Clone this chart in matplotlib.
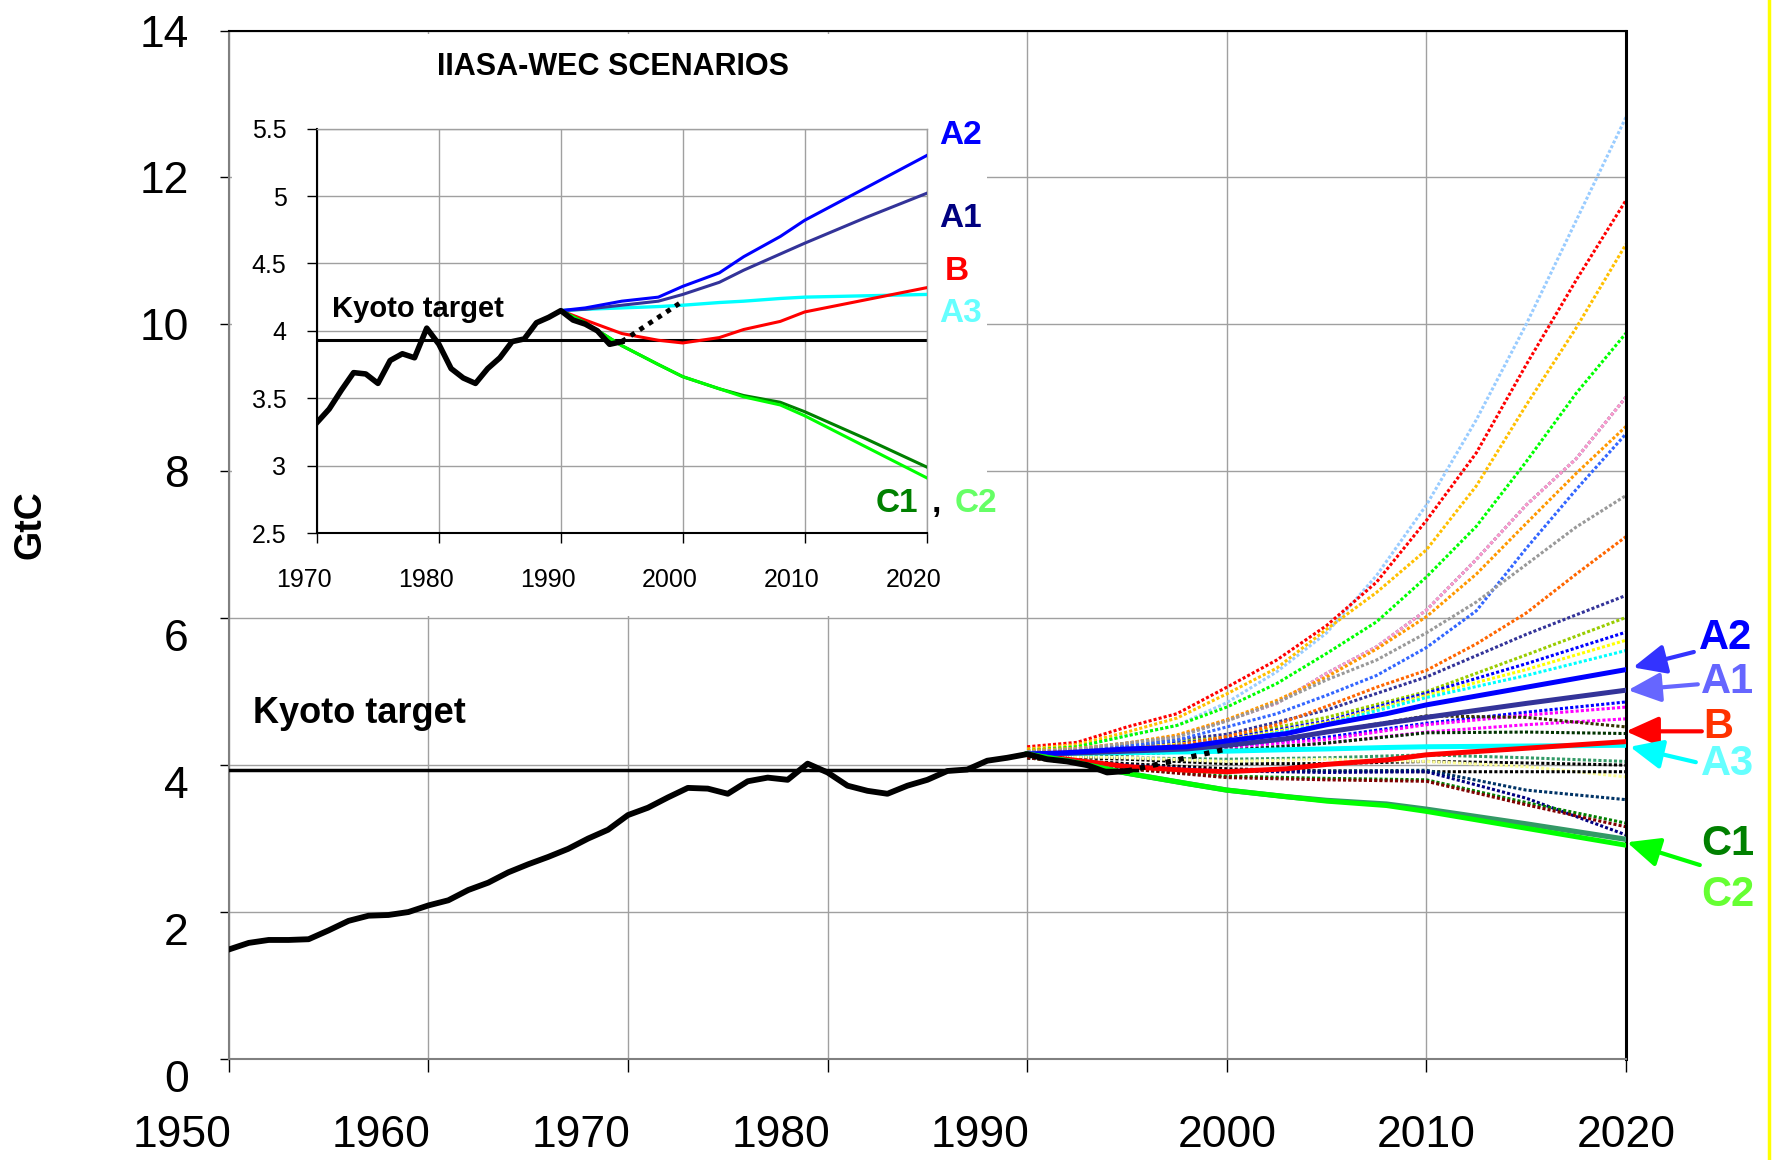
import matplotlib.pyplot as plt
import matplotlib.transforms as mtransforms
from matplotlib.lines import Line2D
from matplotlib.patches import Rectangle

plt.rcParams['font.family'] = ['Liberation Sans', 'DejaVu Sans']

# historical emissions (GtC)
hist_years = list(range(1950, 1996))
hist_gtc = [1.49, 1.58, 1.62, 1.62, 1.63, 1.75, 1.88, 1.95, 1.96, 2.00,
            2.09, 2.16, 2.30, 2.40, 2.54, 2.65, 2.75, 2.86, 3.00, 3.12,
            3.32, 3.42, 3.56, 3.69, 3.68, 3.61, 3.78, 3.83, 3.80, 4.02,
            3.90, 3.72, 3.65, 3.61, 3.72, 3.80, 3.92, 3.94, 4.06, 4.10,
            4.15, 4.08, 4.05, 4.00, 3.90, 3.92]
trend_years = [1995, 2000]
trend_gtc = [3.92, 4.22]
kyoto = 3.93

# IIASA-WEC scenarios
scen_years = [1990, 1992, 1995, 1998, 2000, 2003, 2005, 2008, 2010, 2015, 2020]
scen_a2 = [4.15, 4.17, 4.22, 4.25, 4.33, 4.43, 4.55, 4.70, 4.82, 5.06, 5.30]
scen_a1 = [4.15, 4.16, 4.19, 4.22, 4.27, 4.36, 4.45, 4.57, 4.65, 4.84, 5.02]
scen_b = [4.15, 4.08, 3.98, 3.93, 3.91, 3.95, 4.01, 4.07, 4.14, 4.23, 4.32]
scen_a3 = [4.15, 4.16, 4.17, 4.18, 4.19, 4.21, 4.22, 4.24, 4.25, 4.26, 4.27]
scen_c1 = [4.15, 4.06, 3.89, 3.75, 3.66, 3.57, 3.52, 3.47, 3.40, 3.20, 2.99]
scen_c2 = [4.15, 4.06, 3.89, 3.75, 3.66, 3.57, 3.51, 3.45, 3.37, 3.14, 2.91]

# other scenarios (dotted) - fast-growing ones, read every 2.5 years
high_years = [1990, 1992.5, 1995, 1997.5, 2000, 2002.5, 2005, 2007.5,
              2010, 2012.5, 2015, 2017.5, 2020]
high_colors = ['#99ccff', '#ff0000', '#ffc000', '#00ff00', '#666699', '#ff99cc',
               '#ff9900', '#3366ff', '#999999', '#ff6600']
high_values = [
    [4.20, 4.25, 4.40, 4.54, 4.85, 5.27, 5.80, 6.58, 7.54, 8.70, 10.00, 11.41, 12.82],
    [4.25, 4.31, 4.52, 4.70, 5.06, 5.43, 5.90, 6.49, 7.33, 8.25, 9.45, 10.60, 11.69],
    [4.22, 4.28, 4.45, 4.64, 4.97, 5.32, 5.85, 6.35, 6.93, 7.80, 8.90, 9.95, 11.09],
    [4.20, 4.25, 4.40, 4.54, 4.79, 5.11, 5.52, 5.95, 6.56, 7.25, 8.13, 9.06, 9.88],
    [4.18, 4.22, 4.30, 4.39, 4.61, 4.84, 5.25, 5.61, 6.11, 6.80, 7.54, 8.17, 9.01],
    [4.18, 4.22, 4.30, 4.39, 4.61, 4.84, 5.25, 5.61, 6.11, 6.80, 7.54, 8.17, 9.01],
    [4.20, 4.23, 4.30, 4.41, 4.62, 4.88, 5.20, 5.58, 6.02, 6.60, 7.29, 7.97, 8.61],
    [4.18, 4.20, 4.26, 4.34, 4.52, 4.70, 4.95, 5.22, 5.60, 6.10, 6.95, 7.75, 8.51],
    [4.18, 4.22, 4.30, 4.38, 4.60, 4.85, 5.16, 5.43, 5.80, 6.22, 6.73, 7.24, 7.67],
    [4.17, 4.19, 4.23, 4.27, 4.39, 4.55, 4.80, 5.06, 5.29, 5.65, 6.07, 6.60, 7.11],
]

# other scenarios (dotted) - the flatter ones, read every 5 years
low_years = [1990, 1995, 2000, 2005, 2010, 2015, 2020]
low_colors = ['#333399', '#99cc00', '#0000ff', '#ffff00', '#00ffff', '#0000ff',
              '#ff00ff', '#ff00ff', '#333300', '#003300', '#339966', '#000000',
              '#ffff99', '#000000', '#003366', '#000080', '#008000', '#800000']
low_values = [
    [4.17, 4.27, 4.42, 4.75, 5.20, 5.78, 6.31],
    [4.16, 4.25, 4.38, 4.65, 5.00, 5.50, 6.01],
    [4.16, 4.24, 4.36, 4.60, 4.98, 5.38, 5.81],
    [4.15, 4.23, 4.34, 4.58, 4.95, 5.30, 5.70],
    [4.15, 4.22, 4.32, 4.56, 4.92, 5.22, 5.56],
    [4.15, 4.20, 4.25, 4.38, 4.57, 4.72, 4.86],
    [4.15, 4.20, 4.24, 4.35, 4.55, 4.68, 4.79],
    [4.14, 4.18, 4.20, 4.30, 4.45, 4.55, 4.63],
    [4.14, 4.18, 4.25, 4.45, 4.67, 4.65, 4.52],
    [4.13, 4.15, 4.20, 4.30, 4.44, 4.45, 4.43],
    [4.12, 4.10, 4.08, 4.10, 4.14, 4.10, 4.05],
    [4.12, 4.08, 4.02, 4.02, 4.05, 4.03, 4.00],
    [4.13, 4.10, 4.05, 4.08, 4.05, 3.98, 3.84],
    [4.10, 4.02, 3.95, 3.92, 3.91, 3.91, 3.91],
    [4.10, 4.00, 3.92, 3.92, 3.93, 3.66, 3.53],
    [4.10, 4.00, 3.92, 3.90, 3.91, 3.55, 3.05],
    [4.10, 3.95, 3.85, 3.82, 3.80, 3.49, 3.21],
    [4.10, 3.95, 3.83, 3.80, 3.78, 3.46, 3.16],
]

fig = plt.figure(figsize=(17.72, 11.60), dpi=100)
ax = fig.add_axes([0.1291, 0.0871, 0.7885, 0.8866])

ax.set_xlim(1950, 2020)
ax.set_ylim(0, 14)
ax.set_xticks(range(1950, 2021, 10))
ax.set_yticks(range(0, 15, 2))
ax.set_axisbelow(True)
ax.grid(True, color='#a0a0a0', lw=1.0)

for side in ['left', 'bottom']:
    ax.spines[side].set_color('#808080')
    ax.spines[side].set_linewidth(1.5)
ax.spines['top'].set_linewidth(1.5)
ax.spines['right'].set_linewidth(2.2)

ax.tick_params(axis='x', direction='out', length=9.4, width=1, pad=31, labelsize=32)
ax.tick_params(axis='y', direction='out', length=6.8, width=1, pad=22, labelsize=32)

# tick labels sit a bit off their ticks in the original slide
for year, lbl in zip(range(1950, 2021, 10), ax.get_xticklabels()):
    if year < 2000:
        lbl.set_transform(lbl.get_transform() +
                          mtransforms.ScaledTranslation(-0.47, 0, fig.dpi_scale_trans))
for val, lbl in zip(range(0, 15, 2), ax.get_yticklabels()):
    if val <= 6:
        lbl.set_transform(lbl.get_transform() +
                          mtransforms.ScaledTranslation(0, -0.17, fig.dpi_scale_trans))

# white box behind the inset
ax.add_patch(Rectangle((0.0024, 0.4307), 0.5403, 0.566, transform=ax.transAxes,
                       facecolor='white', edgecolor='none', zorder=1))

for col, vals in zip(low_colors, low_values):
    ax.plot(low_years, vals, color=col, lw=2.2, ls=(0, (1, 0.7)),
            dash_capstyle='butt', zorder=2)
for col, vals in zip(high_colors, high_values):
    ax.plot(high_years, vals, color=col, lw=2.2, ls=(0, (1, 0.7)),
            dash_capstyle='butt', zorder=2)

ax.plot(scen_years, scen_a3, color='#00ffff', lw=3.6, zorder=3)
ax.plot(scen_years, scen_b, color='#ff0000', lw=3.6, zorder=3)
ax.plot(scen_years, scen_a1, color='#333399', lw=3.6, zorder=3)
ax.plot(scen_years, scen_a2, color='#0000ff', lw=3.6, zorder=3)
ax.plot(scen_years, scen_c1, color='#339966', lw=3.8, zorder=3)
ax.plot(scen_years, scen_c2, color='#00ff00', lw=3.6, zorder=3)

ax.plot([1950, 1995.5], [kyoto, kyoto], color='black', lw=2.5, zorder=4)
ax.plot(hist_years, hist_gtc, color='black', lw=4.2, zorder=5)
ax.plot(trend_years, trend_gtc, color='black', lw=3.8, ls=(0, (1, 1.5)),
        dash_capstyle='butt', zorder=5)

ax.text(1951.2, 4.57, 'Kyoto target', fontsize=26, fontweight='bold',
        ha='left', va='baseline', zorder=6)

# scenario labels and arrows on the right
labels = [('A2', 2025.0, 5.73, '#0000ff'), ('A1', 2025.1, 5.13, '#6666ff'),
          ('B', 2024.6, 4.52, '#ff3300'), ('A3', 2025.1, 4.01, '#66ffff'),
          ('C1', 2025.1, 2.93, '#008000'), ('C2', 2025.1, 2.23, '#66ff33')]
for name, x, y, col in labels:
    ax.text(x, y, name, fontsize=30, fontweight='bold', color=col,
            ha='center', va='center', clip_on=False)

arrows = [((2020.35, 5.33), (2023.4, 5.54), '#3333ff'),
          ((2020.1, 5.02), (2023.6, 5.10), '#6666ff'),
          ((2020.0, 4.46), (2023.8, 4.46), '#ff0000'),
          ((2020.2, 4.25), (2023.5, 4.04), '#00ffff'),
          ((2020.05, 2.95), (2023.7, 2.64), '#00ff00')]
for tip, tail, col in arrows:
    ax.annotate('', xy=tip, xytext=tail, annotation_clip=False,
                arrowprops=dict(arrowstyle='-|>,head_length=1.0,head_width=0.45',
                                mutation_scale=20, lw=3, color=col,
                                shrinkA=0, shrinkB=0))

fig.text(30 / 1772, 1 - 525 / 1160, 'GtC', fontsize=27, fontweight='bold',
         rotation=90, ha='center', va='center')

# inset: IIASA-WEC scenarios close-up
ins = fig.add_axes([0.1789, 0.5405, 0.3440, 0.3486])
ins.set_xlim(1970, 2020)
ins.set_ylim(2.5, 5.5)
ins.set_xticks(range(1970, 2021, 10))
ins.set_yticks([2.5, 3, 3.5, 4, 4.5, 5, 5.5])
ins.set_yticklabels(['2.5', '3', '3.5', '4', '4.5', '5', '5.5'])
ins.set_axisbelow(True)
ins.grid(True, color='#a0a0a0', lw=1.0)
for side in ['top', 'right']:
    ins.spines[side].set_color('#a0a0a0')
    ins.spines[side].set_linewidth(1.0)
for side in ['left', 'bottom']:
    ins.spines[side].set_linewidth(1.5)
ins.tick_params(axis='x', direction='out', length=7, width=1, pad=18, labelsize=18)
ins.tick_params(axis='y', direction='out', length=7, width=1, pad=15, labelsize=18)
for lbl in ins.get_xticklabels():
    lbl.set_transform(lbl.get_transform() +
                      mtransforms.ScaledTranslation(-0.13, 0, fig.dpi_scale_trans))

ins.plot([1970, 2020], [kyoto, kyoto], color='black', lw=2.2, zorder=2)
ins.plot(scen_years, scen_a3, color='#00ffff', lw=2.4, zorder=3)
ins.plot(scen_years, scen_b, color='#ff0000', lw=2.2, zorder=3)
ins.plot(scen_years, scen_a1, color='#333399', lw=2.2, zorder=3)
ins.plot(scen_years, scen_a2, color='#0000ff', lw=2.2, zorder=3)
ins.plot(scen_years, scen_c1, color='#008000', lw=2.2, zorder=3)
ins.plot(scen_years, scen_c2, color='#00ff00', lw=2.2, zorder=3)
ins.plot(hist_years[20:], hist_gtc[20:], color='black', lw=4, zorder=4)
ins.plot(trend_years, trend_gtc, color='black', lw=3.5, ls=(0, (1, 1.2)),
         dash_capstyle='butt', zorder=4)

ins.text(1971.2, 4.10, 'Kyoto target', fontsize=21, fontweight='bold',
         ha='left', va='baseline')
ins.text(0.486, 1.153, 'IIASA-WEC SCENARIOS', transform=ins.transAxes,
         fontsize=22, fontweight='bold', ha='center', va='center')

ins_labels = [('A2', 2021.0, 5.45, '#0000ff'), ('A1', 2021.0, 4.83, '#000080'),
              ('B', 2021.5, 4.44, '#ff0000'), ('A3', 2021.0, 4.13, '#66ffff'),
              ('C1', 2015.8, 2.72, '#008000'), (',', 2020.4, 2.72, 'black'),
              ('C2', 2022.3, 2.72, '#66ff66')]
for name, x, y, col in ins_labels:
    ins.text(x, y, name, fontsize=24, fontweight='bold', color=col,
             ha='left', va='center', clip_on=False)

# yellow slide border at the right edge
fig.add_artist(Line2D([0.9985, 0.9985], [0, 1], color='#ffff00', lw=2.5,
                      transform=fig.transFigure))

fig.savefig('out.png', dpi=100)
